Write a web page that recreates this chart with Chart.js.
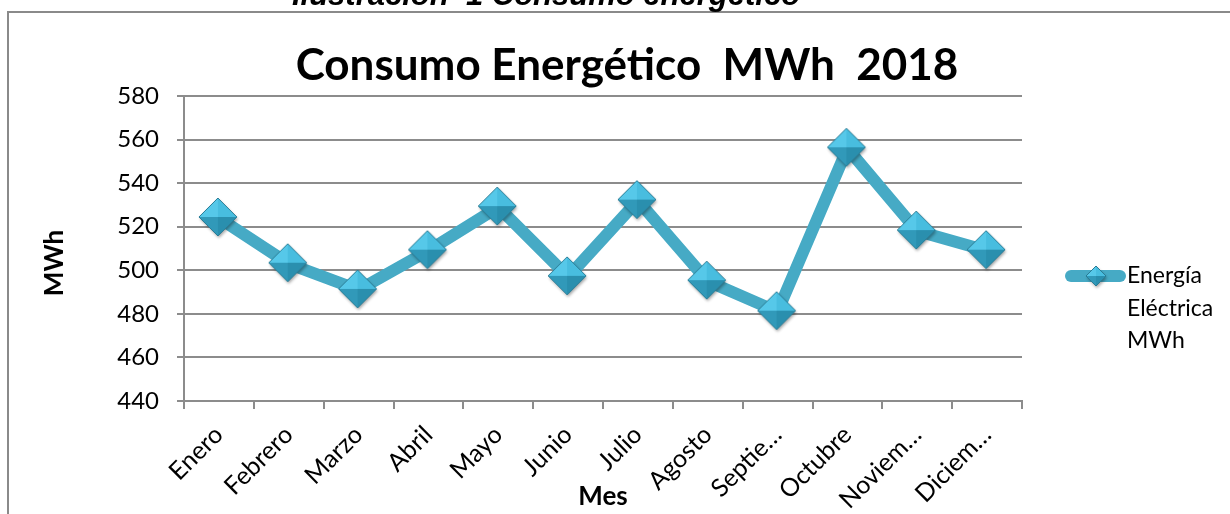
<!DOCTYPE html>
<html>
<head>
<meta charset="utf-8">
<script src="https://cdn.jsdelivr.net/npm/chart.js@4.4.1/dist/chart.umd.min.js"></script>
<style>
  body { margin:0; background:#fff; overflow:hidden; }
  #wrap { position:relative; width:1230px; height:514px; }
  #frame { position:absolute; left:7px; top:11px; width:1300px; height:600px; border:2px solid #8a8a8a; }
  #chart { position:absolute; left:0; top:0; }
</style>
</head>
<body>
<div id="wrap">
  <div id="frame"></div>
  <canvas id="chart" width="1230" height="514"></canvas>
</div>
<script>
// data
const months = ["Enero","Febrero","Marzo","Abril","Mayo","Junio","Julio","Agosto","Septiembre","Octubre","Noviembre","Diciembre"];
const tickLabels = ["Enero","Febrero","Marzo","Abril","Mayo","Junio","Julio","Agosto","Septie…","Octubre","Noviem…","Diciem…"];
const energia = [524, 503, 491, 509, 529, 497, 532, 495, 481, 556, 518, 509];
const seriesName = "Energía Eléctrica MWh";
const legendLines = ["Energía","Eléctrica","MWh"];
const yMin = 440, yMax = 580, yStep = 20;

const lineColor = "#46aac5";
const gridColor = "#8c8c8c";

// diamond marker with shaded facets
function makeDiamond(h){
    const size = h*2 + 8;
    const cv = document.createElement("canvas");
    cv.width = size; cv.height = size;
    const g = cv.getContext("2d");
    const c = size/2 - 1;
    // shadow
    g.save();
    g.shadowColor = "rgba(0,0,0,0.35)";
    g.shadowBlur = 3;
    g.shadowOffsetX = 1;
    g.shadowOffsetY = 2;
    g.beginPath();
    g.moveTo(c, c-h); g.lineTo(c+h, c); g.lineTo(c, c+h); g.lineTo(c-h, c); g.closePath();
    g.fillStyle = "#2f9abb";
    g.fill();
    g.restore();
    const tri = (x1,y1,x2,y2,col) => {
        g.beginPath(); g.moveTo(c,c); g.lineTo(x1,y1); g.lineTo(x2,y2); g.closePath();
        g.fillStyle = col; g.fill();
    };
    tri(c-h, c, c, c-h, "#56c8e9");
    tri(c, c-h, c+h, c, "#48bddf");
    tri(c+h, c, c, c+h, "#2a8fae");
    tri(c, c+h, c-h, c, "#3199b9");
    g.beginPath();
    g.moveTo(c, c-h); g.lineTo(c+h, c); g.lineTo(c, c+h); g.lineTo(c-h, c); g.closePath();
    g.strokeStyle = "#2a7c95";
    g.lineWidth = 1;
    g.stroke();
    return cv;
}
const marker = makeDiamond(19);
const legendMarker = makeDiamond(10);

const extraText = {
    id: "extraText",
    afterDraw(chart){
        const ctx = chart.ctx;
        ctx.save();
        // cut caption above the frame
        ctx.fillStyle = "#000";
        ctx.font = "bold italic 31px 'Liberation Sans'";
        ctx.textAlign = "center";
        ctx.textBaseline = "alphabetic";
        ctx.fillText("Ilustración  1 Consumo energético", 546, 5);
        // title
        ctx.font = "bold 44px Lato";
        ctx.fillText("Consumo Energético  MWh  2018", 627, 80);
        // y axis title
        ctx.save();
        ctx.translate(55, 263);
        ctx.rotate(-Math.PI/2);
        ctx.font = "bold 26px Lato";
        ctx.textBaseline = "middle";
        ctx.fillText("MWh", 0, 0);
        ctx.restore();
        // legend
        ctx.strokeStyle = lineColor;
        ctx.lineWidth = 12;
        ctx.lineCap = "round";
        ctx.beginPath();
        ctx.moveTo(1071, 276);
        ctx.lineTo(1120, 276);
        ctx.stroke();
        ctx.drawImage(legendMarker, 1096 - legendMarker.width/2 + 1, 276 - legendMarker.height/2 + 1);
        ctx.font = "23px Lato";
        ctx.textAlign = "left";
        legendLines.forEach((t, i) => ctx.fillText(t, 1127, 283 + i*32.5));
        ctx.restore();
    }
};

new Chart(document.getElementById("chart"), {
    type: "line",
    data: {
        labels: tickLabels,
        datasets: [{
            label: seriesName,
            data: energia,
            borderColor: lineColor,
            backgroundColor: lineColor,
            borderWidth: 12,
            tension: 0,
            pointStyle: marker,
            pointRadius: 19,
            pointHoverRadius: 19
        }]
    },
    options: {
        responsive: false,
        animation: false,
        events: [],
        layout: { padding: { top: 96, right: 208, left: 0, bottom: 0 } },
        plugins: {
            legend: { display: false },
            title: { display: false },
            tooltip: { enabled: false }
        },
        scales: {
            x: {
                offset: true,
                grid: { offset: true, drawOnChartArea: false, color: gridColor, lineWidth: 2, tickLength: 8 },
                border: { color: gridColor, width: 2 },
                ticks: { autoSkip: false, maxRotation: 45, minRotation: 45, color: "#000", padding: 11, font: { family: "Lato", size: 25 } },
                title: { display: true, text: "Mes", color: "#000", font: { family: "Lato", size: 26, weight: "bold" }, padding: { top: 0, bottom: 2 } },
                afterFit(scale){ scale.height = 113; }
            },
            y: {
                min: yMin,
                max: yMax,
                ticks: { stepSize: yStep, color: "#000", padding: 18, font: { family: "Lato", size: 24 } },
                grid: { color: gridColor, lineWidth: 2, tickLength: 7 },
                border: { color: gridColor, width: 2 },
                afterFit(scale){ scale.width = 184; }
            }
        }
    },
    plugins: [extraText]
});
</script>
</body>
</html>
